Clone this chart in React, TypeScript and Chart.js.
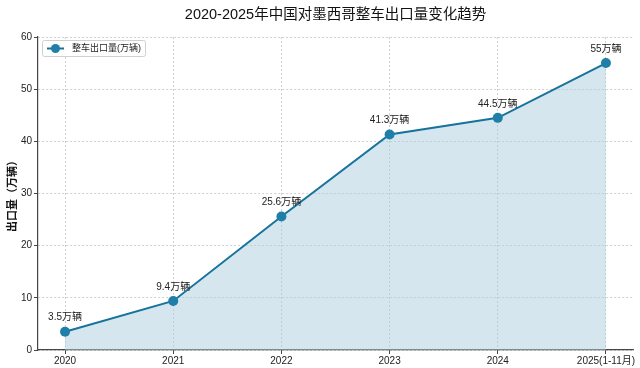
import React, { useEffect, useRef } from "react";
import { Chart, registerables } from "chart.js";

Chart.register(...registerables);

const categories = ["2020", "2021", "2022", "2023", "2024", "2025(1-11月)"];
const exportValues = [3.5, 9.4, 25.6, 41.3, 44.5, 55];
const valueLabels = ["3.5万辆", "9.4万辆", "25.6万辆", "41.3万辆", "44.5万辆", "55万辆"];
const yTicks = [0, 10, 20, 30, 40, 50, 60];
const seriesName = "整车出口量(万辆)";
const titleText = "2020-2025年中国对墨西哥整车出口量变化趋势";
const yTitle = "出口量（万辆）";

const FONT = "'Liberation Sans', 'Noto Sans CJK SC', sans-serif";
const LINE = "#17739c";
const POINT = "#1f7fa8";
const FILL = "rgba(171, 205, 222, 0.5)";

export default function App() {
  const ref = useRef<HTMLCanvasElement | null>(null);
  useEffect(() => {
    const canvas = ref.current;
    if (!canvas) return;

    const labelPlugin = {
      id: "valueLabels",
      afterDatasetsDraw(chart: any) {
        const ctx = chart.ctx;
        const meta = chart.getDatasetMeta(0);
        ctx.save();
        ctx.font = `10px ${FONT}`;
        ctx.fillStyle = "#222";
        ctx.textAlign = "center";
        ctx.textBaseline = "middle";
        meta.data.forEach((pt: any, i: number) => {
          ctx.fillText(valueLabels[i], pt.x, pt.y - 14);
        });
        ctx.restore();
      },
    };

    const titlePlugin = {
      id: "customTitle",
      afterDraw(chart: any) {
        const ctx = chart.ctx;
        const a = chart.chartArea;
        ctx.save();
        ctx.font = `14.5px ${FONT}`;
        ctx.fillStyle = "#111";
        ctx.textAlign = "center";
        ctx.textBaseline = "middle";
        ctx.fillText(titleText, (a.left + a.right) / 2, 15);
        ctx.restore();
      },
    };

    const legendPlugin = {
      id: "customLegend",
      afterDraw(chart: any) {
        const ctx = chart.ctx;
        const a = chart.chartArea;
        const x = a.left + 4;
        const y = a.top + 3;
        ctx.save();
        ctx.font = `9px ${FONT}`;
        const tw = ctx.measureText(seriesName).width;
        const w = 30 + tw + 4;
        const h = 16;
        ctx.fillStyle = "rgba(255,255,255,0.85)";
        ctx.strokeStyle = "#d0d0d0";
        ctx.lineWidth = 1;
        ctx.beginPath();
        ctx.roundRect(x + 0.5, y + 0.5, w, h, 2);
        ctx.fill();
        ctx.stroke();
        const cy = y + h / 2 + 0.5;
        ctx.strokeStyle = LINE;
        ctx.lineWidth = 2;
        ctx.beginPath();
        ctx.moveTo(x + 5, cy);
        ctx.lineTo(x + 22, cy);
        ctx.stroke();
        ctx.fillStyle = POINT;
        ctx.beginPath();
        ctx.arc(x + 13.5, cy, 4.5, 0, Math.PI * 2);
        ctx.fill();
        ctx.fillStyle = "#222";
        ctx.textBaseline = "middle";
        ctx.textAlign = "left";
        ctx.fillText(seriesName, x + 30, cy);
        ctx.restore();
      },
    };

    const chart = new Chart(canvas, {
      type: "line",
      data: {
        datasets: [
          {
            label: seriesName,
            data: exportValues.map((v, i) => ({ x: i, y: v })),
            borderColor: LINE,
            backgroundColor: FILL,
            borderWidth: 2,
            fill: "origin",
            pointRadius: 5,
            pointBackgroundColor: POINT,
            pointBorderColor: POINT,
            pointBorderWidth: 0,
            tension: 0,
          },
        ],
      },
      options: {
        responsive: false,
        animation: false,
        layout: { padding: { left: 0, right: 7, top: 37, bottom: 0 } },
        plugins: {
          legend: { display: false },
          tooltip: { enabled: false },
          title: { display: false },
        },
        scales: {
          x: {
            type: "linear",
            min: -0.25,
            max: 5.25,
            afterBuildTicks: (scale: any) => {
              scale.ticks = categories.map((_, i) => ({ value: i }));
            },
            afterFit: (scale: any) => {
              scale.height = 18;
            },
            ticks: {
              callback: (v: any) => categories[v as number] ?? "",
              font: { family: FONT, size: 10 },
              color: "#222",
              padding: 1,
              maxRotation: 0,
              autoSkip: false,
            },
            grid: {
              color: "rgba(170,170,170,0.7)",
              lineWidth: 0.8,
              drawTicks: true,
              tickLength: 4,
              tickColor: "#444",
              tickWidth: 1,
            },
            border: { display: true, color: "#444", width: 1.2, dash: [2, 2] },
          },
          y: {
            type: "linear",
            min: 0,
            max: 60,
            afterBuildTicks: (scale: any) => {
              scale.ticks = yTicks.map((v) => ({ value: v }));
            },
            afterFit: (scale: any) => {
              scale.width = 38;
            },
            ticks: {
              font: { family: FONT, size: 10 },
              color: "#222",
              padding: 2,
            },
            title: {
              display: true,
              text: yTitle,
              font: { family: FONT, size: 11, weight: "bold" },
              color: "#111",
              padding: { top: 6, bottom: 0 },
            },
            grid: {
              color: "rgba(170,170,170,0.7)",
              lineWidth: 0.8,
              drawTicks: true,
              tickLength: 4,
              tickColor: "#444",
              tickWidth: 1,
            },
            border: { display: true, color: "#444", width: 1.2, dash: [2, 2] },
          },
        },
      },
      plugins: [labelPlugin, legendPlugin, titlePlugin],
    } as any);
    return () => chart.destroy();
  }, []);

  return (
    <div style={{ position: "absolute", left: 0, top: 0, width: 640, height: 368, background: "#fff" }}>
      <canvas ref={ref} width={640} height={368} />
    </div>
  );
}
